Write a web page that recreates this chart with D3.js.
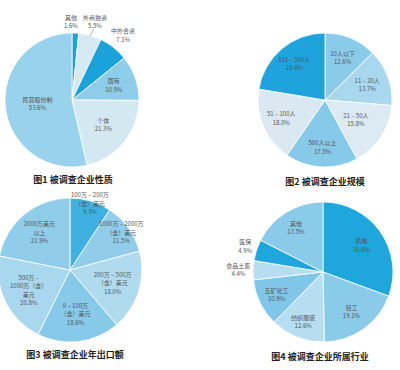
<!DOCTYPE html>
<html>
<head>
<meta charset="utf-8">
<script src="https://cdn.jsdelivr.net/npm/d3@7/dist/d3.min.js"></script>
<style>
  body { margin: 0; background: #fff; }
  text { font-family: "Noto Sans CJK SC", "Noto Sans", sans-serif; }
</style>
</head>
<body>
<div id="chart"></div>
<script>
// chart 1: 企业性质
var names1 = ["其他", "外商独资", "中外合资", "国有", "个体", "民营股份制"];
var values1 = [1.6, 5.5, 7.1, 10.9, 21.3, 53.6];
// chart 2: 企业规模
var names2 = ["10人以下", "11 – 20人", "21 – 50人", "500人以上", "51 – 100人", "101 – 500人"];
var values2 = [12.6, 13.7, 15.8, 17.5, 18.0, 22.4];
// chart 3: 年出口额
var names3 = ["100万 – 200万\n（含）美元", "1000万 – 2000万\n（含）美元", "200万 – 500万\n（含）美元",
              "0 – 100万\n（含）美元", "500万 –\n1000万（含）\n美元", "2000万美元\n以上"];
var values3 = [9.3, 11.5, 18.0, 18.6, 20.8, 21.9];
// chart 4: 所属行业
var names4 = ["机电", "轻工", "纺织服装", "五矿化工", "食品土畜", "医保", "其他"];
var values4 = [30.6, 19.1, 12.6, 10.9, 4.4, 4.9, 17.5];

var titles = ["图1  被调查企业性质", "图2  被调查企业规模", "图3  被调查企业年出口额", "图4  被调查企业所属行业"];

var svg = d3.select("#chart").append("svg").attr("width", 400).attr("height", 370);

var charts = [
  {names: names1, values: values1, cx: 72, cy: 100, r: 67, titleX: 73, titleY: 183,
   colors: ["#1ba2da", "#d6e9f3", "#1aa2da", "#8dcdea", "#d4e8f2", "#99d2ec"],
   labelR: [1.17, 1.21, 1.23, 0.66, 0.6, 0.52], labelDx: [-5, 1, 0, 0, 0, 0], leaders: [1]},
  {names: names2, values: values2, cx: 325, cy: 100, r: 67, titleX: 325, titleY: 185,
   colors: ["#8acbe9", "#a9d8ee", "#dbeaf3", "#86c9e9", "#dae8f1", "#1ea3dc"],
   labelR: [0.68, 0.67, 0.55, 0.71, 0.71, 0.71], labelDx: [], leaders: []},
  {names: names3, values: values3, cx: 70, cy: 270, r: 72, titleX: 75, titleY: 358,
   colors: ["#3fb0e0", "#8fcdea", "#b0dbef", "#86c9e9", "#a9d7ee", "#8fcdea"],
   labelR: [0.96, 0.88, 0.62, 0.62, 0.64, 0.67], labelDx: [], leaders: []},
  {names: names4, values: values4, cx: 323, cy: 272, r: 70, titleX: 320, titleY: 360,
   colors: ["#1ea6dd", "#8acbe9", "#b6def0", "#80c6e8", "#b6def0", "#1ea6dd", "#8acbe9"],
   labelR: [0.67, 0.7, 0.77, 0.74, 1.21, 1.17, 0.74], labelDx: [], leaders: []}
];

charts.forEach(function(c, k){
  var data = c.values.map(function(v, i){ return {name: c.names[i], value: v}; });
  var pie = d3.pie().sort(null).value(function(d){ return d.value; });
  var arcs = pie(data);
  var arc = d3.arc().innerRadius(0).outerRadius(c.r);

  var g = svg.append("g").attr("transform", "translate(" + c.cx + "," + c.cy + ")");

  g.selectAll("path").data(arcs).enter().append("path")
    .attr("d", arc)
    .style("fill", function(d){ return c.colors[d.index]; })
    .style("stroke", "#fff")
    .style("stroke-width", 0.8);

  arcs.forEach(function(d){
    var a = (d.startAngle + d.endAngle) / 2;
    var rl = c.labelR[d.index] * c.r;
    var x = Math.sin(a) * rl + (c.labelDx[d.index] || 0), y = -Math.cos(a) * rl;
    var lines = d.data.name.split("\n");
    lines.push(d3.format(".1f")(d.data.value) + "%");
    var lh = 8.5;
    var y0 = y - (lines.length - 1) * lh / 2;
    var t = g.append("text")
      .attr("text-anchor", "middle")
      .style("font-size", "6px")
      .style("fill", "#555");
    lines.forEach(function(s, j){
      t.append("tspan").attr("x", x).attr("y", y0 + j * lh).attr("dy", "0.35em").text(s);
    });

    if (c.leaders.indexOf(d.index) >= 0) {
      g.append("line")
        .attr("x1", Math.sin(a) * c.r * 0.99).attr("y1", -Math.cos(a) * c.r * 0.99)
        .attr("x2", Math.sin(a) * c.r * 1.1 + 2).attr("y2", -Math.cos(a) * c.r * 1.1)
        .style("stroke", "#777").style("stroke-width", 0.6);
    }
  });

  svg.append("text")
    .attr("x", c.titleX).attr("y", c.titleY)
    .attr("text-anchor", "middle")
    .style("font-size", "9px")
    .style("font-weight", "bold")
    .style("fill", "#222")
    .text(titles[k]);
});
</script>
</body>
</html>
